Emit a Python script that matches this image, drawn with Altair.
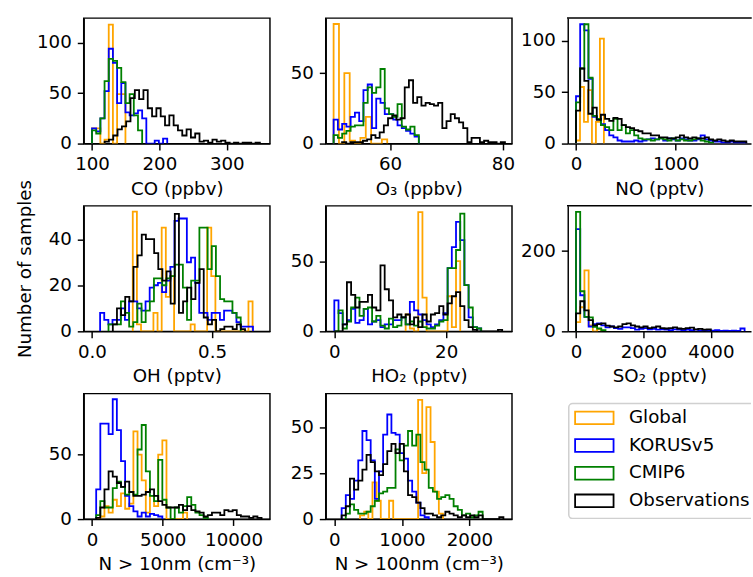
import altair as alt
import pandas as pd

FONT = "DejaVu Sans"
FS = 18.3
LW = 1.8
SPINE = 1.46
H = 126
W = 187
W3 = 184

SERIES = ["Global", "KORUSv5", "CMIP6", "Observations"]
COLORS = ["#FFA500", "#0000FF", "#008000", "#000000"]

# ---------------- data: (bin start, bin width, counts) per series ----------------
# CO (ppbv)
co_global = (100, 6.2, [15, 15, 0, 4, 118, 0, 49, 49])
co_korus = (100, 6.2, [15, 12, 25, 52, 94, 80, 40, 60, 31, 28, 30, 33, 25, 0, 0, 3, 0, 5])
co_cmip = (100, 6.2, [13, 10, 25, 62, 84, 82, 75, 61, 40, 49, 28, 13])
co_obs = (118.7, 6.4, [2, 4, 8, 14, 17, 22, 45, 53, 44, 53, 35, 27, 35, 27, 18, 28, 18, 13, 8, 14,
                       6, 10, 2, 3, 1, 4, 2, 3, 1, 0, 1, 0, 1, 1, 0, 1])
# O3 (ppbv)
o3_global = (50, 0.95, [85, 0, 50, 2, 0, 4, 19, 0, 0, 3])
o3_korus = (50, 0.755, [17, 10, 14, 12, 19, 22, 16, 38, 42, 11, 32, 29, 21, 21, 17, 13, 11, 9, 7, 5])
o3_cmip = (50, 0.755, [6, 4, 7, 9, 12, 13, 13, 29, 40, 36, 40, 53, 25, 21, 19, 28, 12, 10, 12, 6])
o3_obs = (51.5, 0.74, [1, 0, 1, 1, 1, 2, 3, 6, 4, 8, 13, 18, 20, 17, 18, 40, 45, 29, 33, 27, 29, 28,
                       27, 29, 11, 16, 21, 18, 15, 11, 1, 4, 4, 1, 2, 1, 1, 0, 1])
# NO (pptv)
no_global = (0, 40, [3, 55, 21, 52, 0, 21, 102])
no_korus = (0, 41.7, [46, 116, 110, 63, 26, 24, 19, 13, 8, 6, 3, 2, 2, 2, 3, 2, 3, 4, 5, 4, 5, 3, 5,
                      4, 3, 5, 4, 3, 3, 4, 8, 4, 3, 2, 2, 1, 1, 2, 1, 1, 1])
no_cmip = (0, 41.7, [40, 73, 116, 64, 27, 24, 18, 16, 13, 24, 13, 18, 10, 13, 8, 5, 4, 4, 3, 4, 5, 4,
                     3, 5, 3, 4, 3, 3, 4, 5, 3, 2, 1])
no_obs = (0, 41.7, [32, 73, 61, 29, 35, 23, 28, 24, 22, 25, 24, 18, 16, 15, 13, 12, 10, 10, 8, 8, 6, 6,
                    5, 5, 6, 8, 6, 5, 6, 5, 5, 6, 4, 3, 4, 3, 2, 3, 2, 2, 2])
# OH (pptv)
oh_global = (0.17, 0.0172, [52, 3, 0, 0, 0, 8, 0, 45, 15, 24, 0, 0, 0, 0, 3, 0, 0, 0, 45, 24, 0, 0, 0,
                            0, 0, 0, 0, 0, 13])
oh_korus = (0.034, 0.0172, [8, 5, 3, 5, 5, 10, 5, 13, 13, 10, 9, 13, 19, 20, 21, 17, 22, 28, 48, 49, 49,
                            30, 32, 21, 8, 8, 5, 8, 8, 5, 9, 9, 8, 4, 2, 2, 2])
oh_cmip = (0.069, 0.0172, [3, 3, 3, 13, 8, 2, 4, 12, 4, 9, 13, 23, 23, 20, 23, 24, 29, 29, 19, 5, 22, 22,
                           45, 45, 27, 37, 24, 14, 13, 13, 8, 6])
oh_obs = (0.087, 0.0172, [3, 10, 7, 15, 13, 28, 33, 42, 40, 40, 34, 27, 22, 26, 12, 51, 8, 13, 19, 14, 21,
                          27, 6, 3, 5, 0, 1, 2, 2, 1, 3, 1])
# HO2 (pptv)
ho2_global = (12.75, 0.75, [12, 2, 0, 85, 24, 0, 0, 0, 0, 0, 25, 3, 50])
ho2_korus = (0, 0.75, [22, 13, 5, 8, 16, 6, 8, 16, 5, 7, 8, 3, 5, 5, 8, 8, 10, 5, 21, 15, 12, 8, 5, 3, 5,
                       8, 13, 45, 60, 78, 65, 33, 10, 3, 2])
ho2_cmip = (0, 0.75, [0, 15, 2, 7, 17, 24, 11, 16, 17, 7, 11, 4, 2, 9, 3, 4, 10, 5, 7, 4, 7, 3, 2, 2, 4,
                      7, 8, 45, 45, 58, 84, 33, 17, 3, 2])
ho2_obs = (0, 0.75, [0, 0, 5, 35, 26, 17, 21, 21, 26, 17, 15, 47, 30, 22, 10, 12, 10, 12, 5, 10, 3, 12, 7,
                     12, 13, 18, 12, 20, 25, 28, 18, 8, 3, 1, 0, 0, 0, 0, 0, 1])
# SO2 (pptv)
so2_global = (0, 125, [23, 60, 152, 15, 0, 5])
so2_korus = (0, 125, [255, 90, 36, 12, 18, 20, 15, 10, 12, 8, 6, 10, 10, 8, 4, 6, 8, 5, 6, 4, 5, 4, 3,
                      5, 4, 3, 4, 3, 4, 2, 3, 2, 2, 3, 1, 2, 1, 2, 1, 7])
so2_cmip = (0, 125, [298, 100, 36, 35, 11, 7, 3])
so2_obs = (0, 125, [45, 75, 52, 28, 15, 18, 20, 14, 12, 10, 12, 18, 20, 15, 12, 10, 12, 8, 10, 12, 8, 7,
                    8, 10, 7, 6, 8, 9, 5, 6, 4, 5])
# N > 10nm (cm-3)
n10_global = (300, 292, [0, 2, 10, 5, 15, 10, 20, 8, 12, 68, 50, 30, 5, 18, 10, 50, 61, 0, 0, 0, 0, 5])
n10_korus = (300, 292, [23, 74, 74, 66, 93, 69, 45, 18, 10, 6, 2, 5, 2, 4, 3, 2])
n10_cmip = (300, 292, [3, 14, 9, 9, 24, 29, 25, 19, 21, 19, 54, 73, 37, 18, 14, 46, 15, 9, 0, 9, 5, 10,
                       17, 11, 5, 3, 1])
n10_obs = (300, 292, [1, 9, 23, 37, 33, 28, 25, 29, 21, 18, 18, 19, 21, 23, 18, 14, 11, 9, 9, 9, 11, 7,
                      10, 7, 6, 5, 2, 3, 5, 5, 3, 7, 6, 7, 3, 2, 2, 1, 2, 1])
# N > 100nm (cm-3)
n100_global = (380, 61.4, [2, 4, 0, 20, 10, 0, 0, 10, 0, 0, 0, 0, 0, 0, 65, 25, 61, 42, 15, 3])
n100_korus = (108, 61.4, [6, 13, 11, 21, 32, 48, 43, 32, 11, 26, 46, 57, 47, 46, 36, 33, 21, 15, 9, 2, 1])
n100_cmip = (169, 61.4, [3, 8, 5, 3, 3, 4, 7, 10, 14, 15, 17, 17, 38, 32, 40, 48, 40, 46, 31, 27, 17, 15,
                         11, 12, 13, 11, 7, 5, 2, 3, 1, 2, 4])
n100_obs = (108, 61.4, [2, 7, 22, 16, 21, 27, 35, 31, 26, 24, 30, 37, 41, 36, 41, 26, 13, 12, 9, 6, 3, 3,
                        2, 1, 2, 4, 3, 2, 1, 2, 1, 2, 1, 2, 0, 0, 0, 0, 1])

# axis domains / ticks / titles
PANELS = {
    "CO": dict(data=[co_global, co_korus, co_cmip, co_obs], xdom=[87.6, 364.0], ydom=[0, 124.4],
               xt=[100, 200, 300], yt=[0, 50, 100], title="CO (ppbv)"),
    "O3": dict(data=[o3_global, o3_korus, o3_cmip, o3_obs], xdom=[48.6, 81.6], ydom=[0, 89.2],
               xt=[60, 80], yt=[0, 50], title="O\u2083 (ppbv)"),
    "NO": dict(data=[no_global, no_korus, no_cmip, no_obs], xdom=[-83, 1757], ydom=[0, 122],
               xt=[0, 1000], yt=[0, 50, 100], title="NO (pptv)"),
    "OH": dict(data=[oh_global, oh_korus, oh_cmip, oh_obs], xdom=[-0.0344, 0.741], ydom=[0, 54.5],
               xt=[0.0, 0.5], yt=[0, 20, 40], title="OH (pptv)", fmt=".1f"),
    "HO2": dict(data=[ho2_global, ho2_korus, ho2_cmip, ho2_obs], xdom=[-1.54, 31.75], ydom=[0, 89.5],
                xt=[0, 20], yt=[0, 50], title="HO\u2082 (pptv)"),
    "SO2": dict(data=[so2_global, so2_korus, so2_cmip, so2_obs], xdom=[-245, 5190], ydom=[0, 313],
                xt=[0, 2000, 4000], yt=[0, 200], title="SO\u2082 (pptv)"),
    "N10": dict(data=[n10_global, n10_korus, n10_cmip, n10_obs], xdom=[-584, 12570], ydom=[0, 97.4],
                xt=[0, 5000, 10000], yt=[0, 50], title="N > 10nm (cm\u207b\u00b3)"),
    "N100": dict(data=[n100_global, n100_korus, n100_cmip, n100_obs], xdom=[-128, 2629], ydom=[0, 68.4],
                 xt=[0, 1000, 2000], yt=[0, 25, 50], title="N > 100nm (cm\u207b\u00b3)"),
}


def outline(lo, w, counts):
    edges = [lo + w * k for k in range(len(counts) + 1)]
    xs = [edges[0]] + edges[:-1] + [edges[-1], edges[-1]]
    ys = [0] + list(counts) + [counts[-1], 0]
    return pd.DataFrame({"x": xs, "y": ys, "i": list(range(len(xs)))})


def panel(key, width, ytitle=None, open_right=False):
    p = PANELS[key]
    layers = []
    for (lo, w, counts), color in zip(p["data"], COLORS):
        yaxis = alt.Axis(values=p["yt"], format="d", title=ytitle, titlePadding=14)
        layers.append(
            alt.Chart(outline(lo, w, counts)).mark_line(
                interpolate="step-after", color=color, strokeWidth=LW, clip=True,
                strokeJoin="miter", strokeCap="butt"
            ).encode(
                x=alt.X("x:Q", scale=alt.Scale(domain=p["xdom"], nice=False, zero=False),
                        axis=alt.Axis(values=p["xt"], format=p.get("fmt", "d"), title=p["title"])),
                y=alt.Y("y:Q", scale=alt.Scale(domain=p["ydom"], nice=False, zero=False), axis=yaxis),
                order="i:Q",
            )
        )
    if open_right:
        top = alt.Chart(pd.DataFrame({"a": [0]})).mark_rule(
            color="black", strokeWidth=SPINE, strokeCap="square"
        ).encode(x=alt.value(0), x2=alt.value(width), y=alt.value(0))
        layers.append(top)
        return alt.layer(*layers).properties(width=width, height=H, view=alt.ViewBackground(strokeOpacity=0))
    return alt.layer(*layers).properties(width=width, height=H)


# legend panel
leg_df = pd.DataFrame({"s": SERIES})
yleg = alt.Y("s:N", scale=alt.Scale(type="point", domain=SERIES, range=[24.4, 107.7], padding=0), axis=None)
cleg = alt.Color("s:N", scale=alt.Scale(domain=SERIES, range=COLORS), legend=None)
frame = alt.Chart(pd.DataFrame({"a": [0]})).mark_rect(
    fill="white", stroke="#d0d0d0", strokeWidth=1.6, cornerRadius=4, clip=True
).encode(x=alt.value(1), x2=alt.value(W3 + 30), y=alt.value(10), y2=alt.value(125.4))
handles = alt.Chart(leg_df).mark_point(
    shape="M-1,-0.33H1V0.33H-1Z", size=1490, filled=False, strokeWidth=LW, opacity=1
).encode(x=alt.value(26.7), y=yleg, color=cleg)
labels = alt.Chart(leg_df).mark_text(
    align="left", baseline="middle", font=FONT, fontSize=FS, color="black"
).encode(x=alt.value(61.5), y=yleg, text="s:N")
legend = alt.layer(frame, handles, labels).properties(
    width=W3, height=H, view=alt.ViewBackground(strokeOpacity=0)
)

cells = [
    panel("CO", W), panel("O3", W), panel("NO", W3, open_right=True),
    panel("OH", W, ytitle="Number of samples"), panel("HO2", W), panel("SO2", W3, open_right=True),
    panel("N10", W), panel("N100", W), legend,
]

chart = alt.concat(*cells, columns=3, spacing={"row": 62.5, "column": 56}, bounds="flush").properties(
    padding={"left": 14, "top": 15, "right": 0, "bottom": 0}
).configure_view(
    stroke="black", strokeWidth=SPINE
).configure_axis(
    labelFont=FONT, labelFontSize=FS, labelColor="black", labelPadding=6, labelFlush=False,
    tickColor="black", tickSize=6.4, tickWidth=SPINE,
    domainColor="black", domainWidth=SPINE, grid=False,
    titleFont=FONT, titleFontSize=FS, titleFontWeight="normal", titleColor="black", titlePadding=7,
).configure_axisY(titlePadding=14)

chart.save("out.html", embed_options={"renderer": "svg", "actions": False})
